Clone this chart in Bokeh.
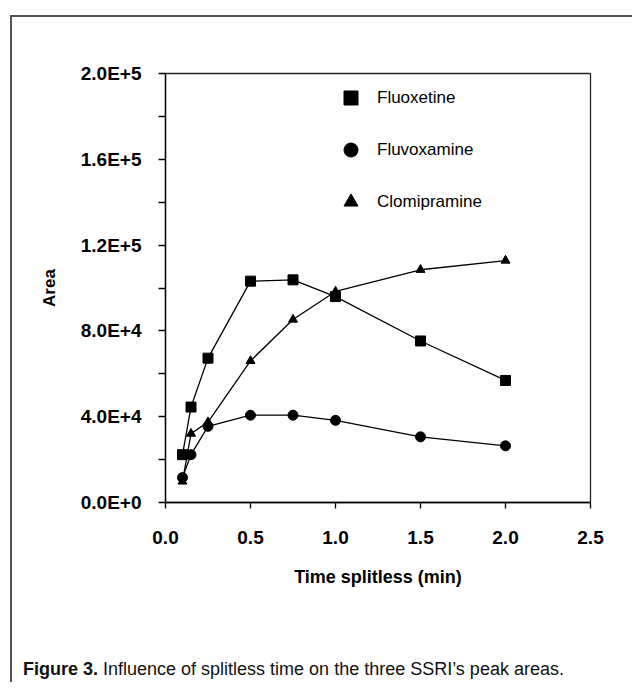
from bokeh.plotting import figure
from bokeh.layouts import column
from bokeh.models import Range1d, FixedTicker, Legend, LegendItem, Div
from bokeh.embed import file_html
from bokeh.resources import INLINE

# ---- data ----
time_min = [0.1, 0.15, 0.25, 0.5, 0.75, 1.0, 1.5, 2.0]
fluoxetine = [22300, 44500, 67300, 103200, 103800, 96000, 75300, 56900]
fluvoxamine = [11600, 22300, 35500, 40700, 40700, 38300, 30600, 26400]
clomipramine = [9800, 32100, 37500, 66000, 85300, 98400, 108500, 112800]

series_names = ["Fluoxetine", "Fluvoxamine", "Clomipramine"]

x_ticks = [0.0, 0.5, 1.0, 1.5, 2.0, 2.5]
x_tick_labels = ["0.0", "0.5", "1.0", "1.5", "2.0", "2.5"]
y_ticks = [0, 40000, 80000, 120000, 160000, 200000]
y_tick_labels = ["0.0E+0", "4.0E+4", "8.0E+4", "1.2E+5", "1.6E+5", "2.0E+5"]
y_minor_ticks = [20000, 60000, 100000, 140000, 180000]

caption_bold = "Figure 3."
caption_text = "Influence of splitless time on the three SSRI\u2019s peak areas."

FONT = "Liberation Sans"

p = figure(
    frame_width=425, frame_height=429,
    min_border_left=153, min_border_right=36, min_border_top=56, min_border_bottom=110,
    x_range=Range1d(0, 2.5), y_range=Range1d(0, 200000),
    output_backend="svg", toolbar_location=None,
)
p.background_fill_color = "white"
p.border_fill_color = "white"
p.grid.visible = False
p.outline_line_color = "#222222"
p.outline_line_width = 1.3

# x axis
p.xaxis.ticker = FixedTicker(ticks=x_ticks)
p.xaxis.major_label_overrides = dict(zip(x_ticks, x_tick_labels))
p.xaxis.major_tick_out = 6
p.xaxis.major_tick_in = 0
p.xaxis.minor_tick_out = 0
p.xaxis.minor_tick_in = 0
p.xaxis.major_label_standoff = 22
p.xaxis.axis_label = "Time splitless (min)"
p.xaxis.axis_label_standoff = 20
p.xaxis.axis_label_text_font_size = "18px"

# y axis
p.yaxis.ticker = FixedTicker(ticks=y_ticks, minor_ticks=y_minor_ticks)
p.yaxis.major_label_overrides = dict(zip(y_ticks, y_tick_labels))
p.yaxis.major_tick_out = 7
p.yaxis.major_tick_in = 0
p.yaxis.minor_tick_out = 7
p.yaxis.minor_tick_in = 0
p.yaxis.major_label_standoff = 17
p.yaxis.axis_label = "Area"
p.yaxis.axis_label_standoff = 19
p.yaxis.axis_label_text_font_size = "17px"

for ax in (p.xaxis, p.yaxis):
    ax.axis_line_color = "black"
    ax.axis_line_width = 1.3
    ax.major_tick_line_color = "black"
    ax.major_tick_line_width = 1.3
    ax.minor_tick_line_color = "black"
    ax.minor_tick_line_width = 1.3
    ax.major_label_text_font = FONT
    ax.major_label_text_font_style = "bold"
    ax.major_label_text_font_size = "19px"
    ax.major_label_text_color = "black"
    ax.axis_label_text_font = FONT
    ax.axis_label_text_font_style = "bold"
    ax.axis_label_text_color = "black"

# series
markers = ["square", "circle", "triangle"]
sizes = [10, 10, 9]
renderers = []
for ys, mk, sz in zip([fluoxetine, fluvoxamine, clomipramine], markers, sizes):
    p.line(time_min, ys, line_color="black", line_width=1.3)
    r = p.scatter(time_min, ys, marker=mk, size=sz, fill_color="black", line_color="black")
    renderers.append(r)

legend = Legend(
    items=[LegendItem(label=n, renderers=[r]) for n, r in zip(series_names, renderers)],
    location=(168, 283), orientation="vertical",
    glyph_width=35, glyph_height=35, spacing=17, padding=0, margin=0,
    label_standoff=9, border_line_color=None, background_fill_alpha=0,
    label_text_font=FONT, label_text_font_size="17px", label_text_color="black",
)
p.add_layout(legend)

cap = Div(
    text=(
        '<div style="font-family:\'Liberation Sans\',Arial,sans-serif;font-size:18px;'
        'color:#111;padding:40px 0 0 6px;white-space:nowrap;">'
        f'<b>{caption_bold}</b> {caption_text}</div>'
    ),
    width=610, height=60,
)

layout = column(
    p, cap, margin=(15, 0, 0, 10),
    styles={"border-left": "2px solid #555", "border-top": "2px solid #555"},
)

open("out.html", "w").write(file_html(layout, INLINE))
